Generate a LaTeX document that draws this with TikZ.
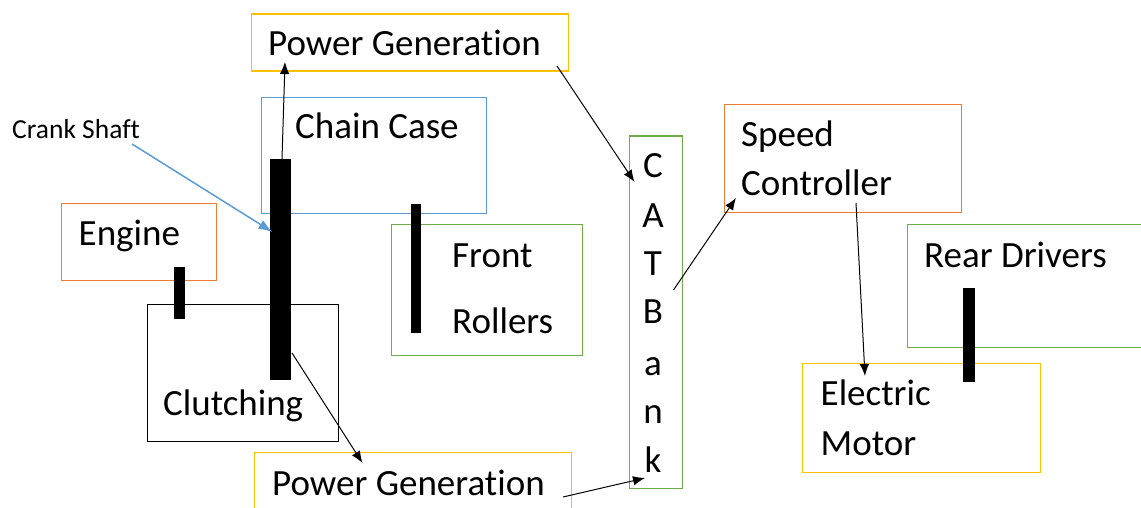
\documentclass[tikz,border=0pt]{standalone}
\usepackage{fontspec}
\setmainfont[Ligatures=CommonOff]{Carlito}
\usetikzlibrary{arrows.meta}
\definecolor{gold}{HTML}{FFC000}
\definecolor{wblue}{HTML}{5B9BD5}
\definecolor{worange}{HTML}{ED7D31}
\definecolor{wgreen}{HTML}{70AD47}
\tikzset{
  box/.style={draw=#1, line width=1.4pt, inner sep=0pt, anchor=north west, fill=none},
  bar/.style={fill=black, draw=none, inner sep=0pt, anchor=north west},
  txt/.style={inner sep=0pt, anchor=base west, font=\fontsize{37}{44}\selectfont},
  small/.style={inner sep=0pt, anchor=base west, font=\fontsize{27.5}{33}\selectfont},
  letter/.style={inner sep=0pt, anchor=base, font=\fontsize{37}{44}\selectfont},
  conn/.style={draw=black, line width=1pt, -{Latex[length=12pt,width=9.5pt]}},
  bconn/.style={draw=wblue, line width=1.5pt, -{Latex[length=14pt,width=10pt]}}
}
\begin{document}
\begin{tikzpicture}[x=1pt,y=-1pt]
\path[use as bounding box] (0,0) rectangle (1141,508);
\clip (0,0) rectangle (1141,508);
% boxes
\node[box=gold, minimum width=317pt, minimum height=57pt] (pgtop) at (250.5,13.5) {};
\node[box=wblue, minimum width=225.5pt, minimum height=116pt] (chain) at (260.5,97) {};
\node[box=worange, minimum width=155pt, minimum height=77pt] (engine) at (60.5,203) {};
\node[box=black, minimum width=191pt, minimum height=137pt] (clutch) at (146.5,304) {};
\node[box=wgreen, minimum width=190.5pt, minimum height=131pt] (front) at (391,224) {};
\node[box=gold, minimum width=317pt, minimum height=80pt] (pgbot) at (254,452) {};
\node[box=wgreen, minimum width=53.5pt, minimum height=352.5pt] (cat) at (628.5,135.5) {};
\node[box=worange, minimum width=237.5pt, minimum height=108pt] (sc) at (723.5,104) {};
\node[box=wgreen, minimum width=260pt, minimum height=123pt] (rear) at (907,224) {};
\node[box=gold, minimum width=237.5pt, minimum height=109pt] (em) at (802,363) {};
% bars
\node[bar, minimum width=11pt, minimum height=52pt] (engbar) at (174,267) {};
\node[bar, minimum width=21pt, minimum height=221pt] (crank) at (270,159) {};
\node[bar, minimum width=10pt, minimum height=129pt] (frontbar) at (410.5,204) {};
\node[bar, minimum width=11.5pt, minimum height=94pt] (rearbar) at (963,288) {};
% texts
\node[txt] (tpgtop) at (268,56) {Power Generation};
\node[txt] (tchain) at (295,139) {Chain Case};
\node[small] (tcrank) at (12,139) {Crank Shaft};
\node[txt] (tengine) at (78.5,245) {Engine};
\node[txt] (tclutch) at (163,415) {Clutching};
\node[txt] (tfront) at (452,267) {Front};
\node[txt] (trollers) at (452,333) {Rollers};
\node[txt] (tpgbot) at (272,495) {Power Generation};
\node[letter] (c1) at (653,178) {C};
\node[letter] (c2) at (653,227) {A};
\node[letter] (c3) at (653,275) {T};
\node[letter] (c4) at (653,323) {B};
\node[letter] (c5) at (653,375) {a};
\node[letter] (c6) at (653,423) {n};
\node[letter] (c7) at (653,472) {k};
\node[txt] (tspeed) at (741,147) {Speed};
\node[txt] (tctrl) at (741,196) {Controller};
\node[txt] (trear) at (924,267) {Rear Drivers};
\node[txt] (telec) at (820.5,405) {Electric};
\node[txt] (tmotor) at (820.5,455) {Motor};
% connector end points
\coordinate (a1s) at (282,159);
\coordinate (a1e) at (285,62);
\coordinate (a2s) at (557,66);
\coordinate (a2e) at (634.5,182);
\coordinate (a3s) at (292,353);
\coordinate (a3e) at (362.5,463);
\coordinate (a4s) at (563,497);
\coordinate (a4e) at (645,478);
\coordinate (a5s) at (673.5,290);
\coordinate (a5e) at (736,198);
\coordinate (a6s) at (856,203);
\coordinate (a6e) at (865,376);
\coordinate (a7s) at (132,144);
\coordinate (a7e) at (272.5,232);
% connectors
\draw[conn] (a1s) -- (a1e);
\draw[conn] (a2s) -- (a2e);
\draw[conn] (a3s) -- (a3e);
\draw[conn] (a4s) -- (a4e);
\draw[conn] (a5s) -- (a5e);
\draw[conn] (a6s) -- (a6e);
\draw[bconn] (a7s) -- (a7e);
\end{tikzpicture}
\end{document}
